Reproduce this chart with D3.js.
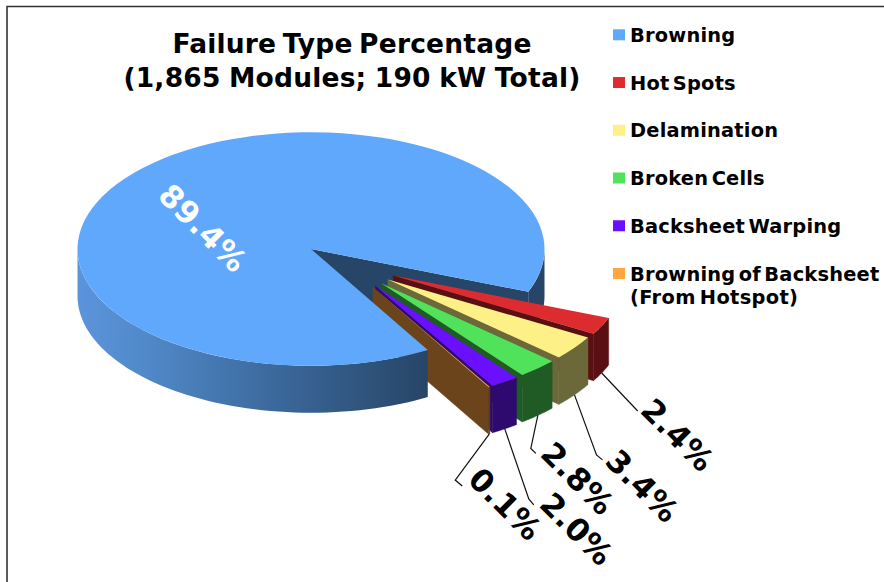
<!DOCTYPE html>
<html><head><meta charset="utf-8">
<script src="https://cdn.jsdelivr.net/npm/d3@7/dist/d3.min.js"></script>
<style>html,body{margin:0;padding:0;background:#fff}svg{display:block}text{font-family:"DejaVu Sans",Verdana,sans-serif;font-weight:bold}</style>
</head><body><div id="c"></div>
<script>
const categories = ["Browning","Hot Spots","Delamination","Broken Cells","Backsheet Warping","Browning of Backsheet"];
const legendExtra = ["","","","","","(From Hotspot)"];
const values = [89.4,2.4,3.4,2.8,2.0,0.1];
const labels = ["89.4%","2.4%","3.4%","2.8%","2.0%","0.1%"];
const topColors = ["#60a8fc","#dd2c30","#fdf086","#4fe25a","#6a10ff","#ffa640"];
const sideColors = ["#274566","#5a1012","#6b693a","#205a24","#2e0a6e","#6b441c"];

const W=884,H=582, cx=311, cy=249, R=233.5, Rs=231.5, squash=0.5, depth=47;
const explode=98, rad=Math.PI/180;
const svg=d3.select("#c").append("svg").attr("width",W).attr("height",H);

// frame
svg.append("path").attr("d",d3.line()([[7,H],[7,6.5],[W,6.5]])).attr("fill","none").attr("stroke","#333").attr("stroke-width",1.6);

const defs=svg.append("defs");
const grad=defs.append("linearGradient").attr("id","rim").attr("gradientUnits","userSpaceOnUse")
  .attr("x1",cx-R).attr("x2",cx+R*0.5).attr("y1",0).attr("y2",0);
[[0,"#5c94dc"],[0.2,"#5089c8"],[0.55,"#3c6a9e"],[1,"#274566"]].forEach(s=>grad.append("stop").attr("offset",s[0]).attr("stop-color",s[1]));

const pie=d3.pie().sort(null).startAngle(150*rad).endAngle(510*rad);
const arcs=pie(values);
const pt=(a,c,r)=>[c[0]+r*Math.sin(a), c[1]-r*squash*Math.cos(a)];
const lineGen=d3.line();
function band(a0,a1,c,r){
  const steps=d3.range(0,61).map(i=>a0+(a1-a0)*i/60);
  const up=steps.map(a=>pt(a,c,r));
  const lo=steps.slice().reverse().map(a=>{const p=pt(a,c,r);return [p[0],p[1]+depth];});
  return lineGen(up.concat(lo))+"Z";
}
function face(a,c,r){
  const p=pt(a,c,r);
  return lineGen([c,p,[p[0],p[1]+depth],[c[0],c[1]+depth]])+"Z";
}
function topFace(d,c,r,fill){
  const arcTop=d3.arc().innerRadius(0).outerRadius(r);
  svg.append("path").attr("d",arcTop(d)).attr("transform",`translate(${c[0]},${c[1]}) scale(1,${squash})`).attr("fill",fill);
}

// main slice: inner faces first, its rim and top go over the exploded slices
const mainArc=arcs[0], C0=[cx,cy];
svg.append("path").attr("d",band(450*rad,mainArc.endAngle,C0,R)).attr("fill",sideColors[0]);
svg.append("path").attr("d",face(mainArc.endAngle,C0,R)).attr("fill",sideColors[0]);

// exploded slices: offset direction converges toward the wedge axis
const axis=(mainArc.endAngle+510*rad)/2;
const anchors=[];
arcs.slice(1).forEach((d,k)=>{
  const i=k+1, mid=(d.startAngle+d.endAngle)/2;
  const dir=axis+0.53*(mid-axis);
  const c=[cx+explode*Math.sin(dir), cy-explode*squash*Math.cos(dir)];
  svg.append("path").attr("d",band(d.startAngle,d.endAngle,c,Rs)).attr("fill",sideColors[i]).attr("stroke",sideColors[i]).attr("stroke-width",0.4);
  svg.append("path").attr("d",face(d.endAngle,c,Rs)).attr("fill",sideColors[i]).attr("stroke",sideColors[i]).attr("stroke-width",0.4);
  topFace(d,c,Rs,topColors[i]);
  const a=pt(mid,c,Rs);
  anchors[i]=[a[0],a[1]+depth];
});

svg.append("path").attr("d",band(mainArc.startAngle,270*rad,C0,R)).attr("fill","url(#rim)");
topFace(mainArc,C0,R,topColors[0]);

// leader lines and rotated labels, placed relative to each slice's rim anchor
const leaderOffsets=[null,[[36,38]],[[22,60],[28,65]],[[-7,33],[-2,38]],[[24,70],[29,76]],[[-34,46],[-27,52]]];
const labelOffsets=[null,[76,62],[68,91],[40,63],[72,100],[16,70]];
arcs.slice(1).forEach((d,k)=>{
  const i=k+1,a=anchors[i];
  const pts=[a].concat(leaderOffsets[i].map(o=>[a[0]+o[0],a[1]+o[1]]));
  svg.append("path").attr("d",lineGen(pts)).attr("fill","none").attr("stroke","#111").attr("stroke-width",1.2);
  svg.append("text").attr("transform",`translate(${a[0]+labelOffsets[i][0]},${a[1]+labelOffsets[i][1]}) rotate(45)`)
    .attr("text-anchor","middle").attr("dominant-baseline","central").attr("font-size",31).attr("letter-spacing",0.4).attr("fill","#000").text(labels[i]);
});
svg.append("text").attr("transform",`translate(${cx-108},${cy-21}) rotate(45)`)
  .attr("text-anchor","middle").attr("dominant-baseline","central").attr("font-size",31).attr("letter-spacing",0.4).attr("fill","#fff").text(labels[0]);

// title
const title=["Failure Type Percentage","(1,865 Modules; 190 kW Total)"];
const titleWordSpacing=[-3,-1];
svg.selectAll(".t").data(title).enter().append("text").attr("class","t")
  .attr("x",352).attr("y",(d,i)=>53+i*34).attr("text-anchor","middle").attr("font-size",26.5)
  .attr("letter-spacing",0.2).attr("word-spacing",(d,i)=>titleWordSpacing[i]).attr("fill","#000").text(d=>d);

// legend
const yLegend=d3.scalePoint().domain(categories).range([34.8,273.5]);
categories.forEach((c,i)=>{
  const y=yLegend(c);
  svg.append("rect").attr("x",613).attr("y",y-5.5).attr("width",12).attr("height",11).attr("fill",topColors[i]);
  svg.append("text").attr("x",630).attr("y",y+7).attr("font-size",19.4).attr("letter-spacing",0.2).attr("word-spacing",-3.5).attr("fill","#000").text(c);
  if(legendExtra[i]) svg.append("text").attr("x",630).attr("y",y+30).attr("font-size",19.4).attr("letter-spacing",0.35).attr("word-spacing",-3).attr("fill","#000").text(legendExtra[i]);
});
</script></body></html>
